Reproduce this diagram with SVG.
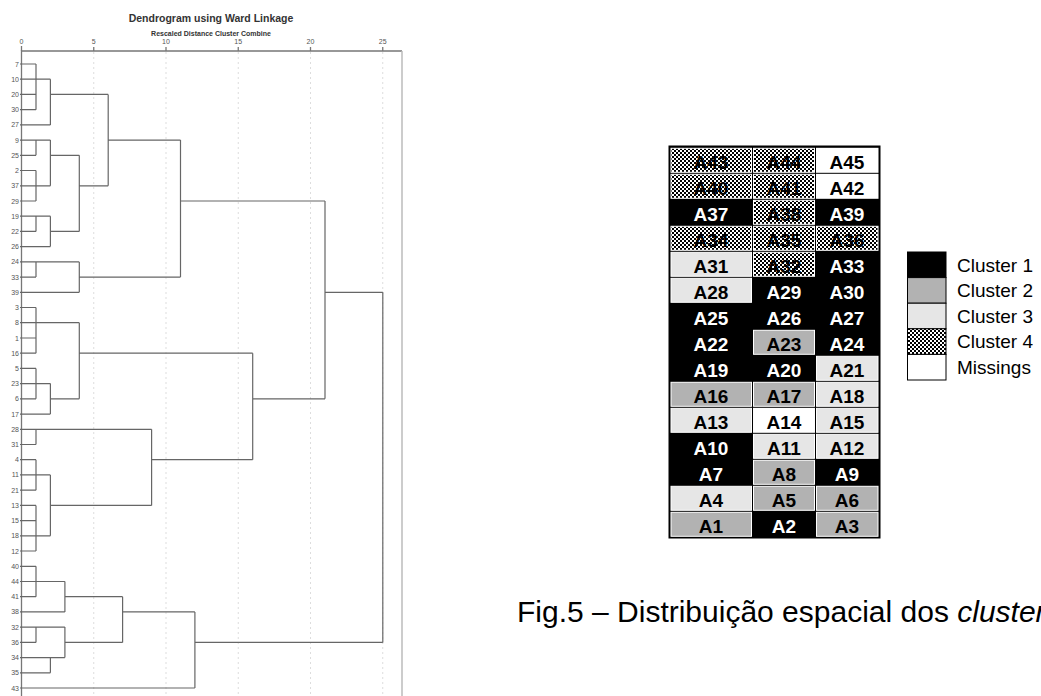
<svg xmlns="http://www.w3.org/2000/svg" width="1041" height="696" viewBox="0 0 1041 696">
<style>
.bg{fill:#fff}
.tt{font-family:"Liberation Sans",Arial,sans-serif;font-weight:bold;fill:#333;text-anchor:middle}
.ax{font-family:"Liberation Sans",Arial,sans-serif;font-size:7px;fill:#555;text-anchor:middle}
.lf{font-family:"Liberation Sans",Arial,sans-serif;font-size:7px;fill:#555;text-anchor:end}
.frame{stroke:#777;stroke-width:1.3;fill:none}
.frameR{stroke:#bbb;stroke-width:1.5;fill:none}
.grid{stroke:#ddd;stroke-width:1;stroke-dasharray:2 3;fill:none}
.den{stroke:#666;stroke-width:1.2;fill:none}
.cell{font-family:"Liberation Sans",Arial,sans-serif;font-weight:bold;font-size:19px;text-anchor:middle}
.w{fill:#fff}
.k{fill:#000}
.c1{fill:#000}
.c2{fill:#b2b2b2}
.c3{fill:#e6e6e6}
.c4{fill:url(#chk)}
.cm{fill:#fff}
.cg .c2,.cg .c3,.cg .c4{stroke:#fff;stroke-width:1}
.lg{font-family:"Liberation Sans",Arial,sans-serif;font-size:19px;fill:#000}
.cap{font-family:"Liberation Sans",Arial,sans-serif;font-size:30px;fill:#000}
</style>
<defs>
<pattern id="chk" width="4" height="4" patternUnits="userSpaceOnUse">
<rect width="4" height="4" fill="#fff"/>
<rect width="2" height="2" fill="#000"/>
<rect x="2" y="2" width="2" height="2" fill="#000"/>
</pattern>
</defs>
<rect class="bg" width="1041" height="696"/>

<g id="dendrogram-title">
<text class="tt" x="211" y="22" font-size="10.5">Dendrogram using Ward Linkage</text>
<text class="tt" x="211" y="35.5" font-size="7">Rescaled Distance Cluster Combine</text>
</g>

<g id="axis">
<text class="ax" x="21.5" y="44">0</text>
<text class="ax" x="93.75" y="44">5</text>
<text class="ax" x="166" y="44">10</text>
<text class="ax" x="238.25" y="44">15</text>
<text class="ax" x="310.5" y="44">20</text>
<text class="ax" x="382.75" y="44">25</text>
<path class="frame" d="M21.5 46V51M93.75 47V51M166 47V51M238.25 47V51M310.5 47V51M382.75 47V51"/>
<path class="grid" d="M93.75 52V696M166 52V696M238.25 52V696M310.5 52V696M382.75 52V696"/>
<path class="frame" d="M21.5 696V51H402"/>
<path class="frameR" d="M402 51V696"/>
</g>

<g id="leaf-labels">
<text class="lf" x="19" y="66.5">7</text>
<text class="lf" x="19" y="81.7">10</text>
<text class="lf" x="19" y="96.9">20</text>
<text class="lf" x="19" y="112.2">30</text>
<text class="lf" x="19" y="127.4">27</text>
<text class="lf" x="19" y="142.6">9</text>
<text class="lf" x="19" y="157.8">25</text>
<text class="lf" x="19" y="173">2</text>
<text class="lf" x="19" y="188.3">37</text>
<text class="lf" x="19" y="203.5">29</text>
<text class="lf" x="19" y="218.7">19</text>
<text class="lf" x="19" y="233.9">22</text>
<text class="lf" x="19" y="249.1">26</text>
<text class="lf" x="19" y="264.4">24</text>
<text class="lf" x="19" y="279.6">33</text>
<text class="lf" x="19" y="294.8">39</text>
<text class="lf" x="19" y="310">3</text>
<text class="lf" x="19" y="325.2">8</text>
<text class="lf" x="19" y="340.5">1</text>
<text class="lf" x="19" y="355.7">16</text>
<text class="lf" x="19" y="370.9">5</text>
<text class="lf" x="19" y="386.1">23</text>
<text class="lf" x="19" y="401.3">6</text>
<text class="lf" x="19" y="416.6">17</text>
<text class="lf" x="19" y="431.8">28</text>
<text class="lf" x="19" y="447">31</text>
<text class="lf" x="19" y="462.2">4</text>
<text class="lf" x="19" y="477.4">11</text>
<text class="lf" x="19" y="492.7">21</text>
<text class="lf" x="19" y="507.9">13</text>
<text class="lf" x="19" y="523.1">15</text>
<text class="lf" x="19" y="538.3">18</text>
<text class="lf" x="19" y="553.5">12</text>
<text class="lf" x="19" y="568.8">40</text>
<text class="lf" x="19" y="584">44</text>
<text class="lf" x="19" y="599.2">41</text>
<text class="lf" x="19" y="614.4">38</text>
<text class="lf" x="19" y="629.6">32</text>
<text class="lf" x="19" y="644.9">36</text>
<text class="lf" x="19" y="660.1">34</text>
<text class="lf" x="19" y="675.3">35</text>
<text class="lf" x="19" y="690.5">43</text>
</g>

<g id="connectors">
<path class="den" d="
M20 64H36M20 79.2H36M20 94.4H36M20 109.7H36M20 124.9H50.4
M20 140.1H36M20 155.3H36M20 170.5H36M20 185.8H36M20 201H36
M20 216.2H36M20 231.4H36M20 246.6H50.4
M20 261.9H36M20 277.1H36M20 292.3H79.3
M20 307.5H36M20 322.7H36M20 338H36M20 353.2H36
M20 368.4H36M20 383.6H36M20 398.8H36M20 414.1H50.4
M20 429.3H36M20 444.5H36
M20 459.7H36M20 474.9H36M20 490.2H36
M20 505.4H36M20 520.6H36M20 535.8H36M20 551H36
M20 566.3H36M20 581.5H36M20 596.7H36M20 611.9H64.9
M20 627.1H36M20 642.4H36M20 657.6H50.4M20 672.8H50.4M20 688H194.9
M36 64V109.7M36 79.2H50.4
M50.4 79.2V124.9M50.4 94.4H108.2
M36 140.1V155.3M36 140.1H50.4
M36 170.5V201M36 185.8H50.4
M50.4 140.1V185.8M50.4 155.3H79.3
M36 216.2V231.4M36 216.2H50.4
M50.4 216.2V246.6M50.4 231.4H79.3
M79.3 155.3V231.4M79.3 185.8H108.2
M108.2 94.4V185.8M108.2 140.1H180.5
M36 261.9V277.1M36 261.9H79.3
M79.3 261.9V292.3M79.3 277.1H180.5
M180.5 140.1V277.1M180.5 201H325
M36 307.5V353.2M36 322.7H79.3
M36 368.4V398.8M36 383.6H50.4
M50.4 383.6V414.1M50.4 398.8H79.3
M79.3 322.7V398.8M79.3 353.2H252.7
M36 429.3V444.5M36 429.3H151.6
M36 459.7V490.2M36 474.9H50.4
M36 505.4V551M36 535.8H50.4
M50.4 474.9V535.8M50.4 505.4H151.6
M151.6 429.3V505.4M151.6 459.7H252.7
M252.7 353.2V459.7M252.7 398.8H325
M325 201V398.8M325 292.3H382.8
M36 566.3V596.7M36 581.5H64.9
M64.9 581.5V611.9M64.9 596.7H122.6
M36 627.1V642.4M36 627.1H64.9
M50.4 657.6V672.8M50.4 657.6H64.9
M64.9 627.1V657.6M64.9 642.4H122.6
M122.6 596.7V642.4M122.6 611.9H194.9
M194.9 611.9V688M194.9 642.4H382.8
M382.8 292.3V642.4"/>
</g>

<g id="cluster-grid" class="cg">
<rect x="668.5" y="145.5" width="212" height="393" fill="#000"/>
<g id="row-43">
<rect class="c4" x="671" y="148.3" width="80.5" height="24"/><text class="cell k" x="711" y="168.5">A43</text>
<rect class="c4" x="753.5" y="148.3" width="61" height="24"/><text class="cell k" x="784" y="168.5">A44</text>
<rect class="cm" x="816" y="147.8" width="62.5" height="25"/><text class="cell k" x="847" y="168.5">A45</text>
</g>
<g id="row-40">
<rect class="c4" x="671" y="174.3" width="80.5" height="24"/><text class="cell k" x="711" y="194.5">A40</text>
<rect class="c4" x="753.5" y="174.3" width="61" height="24"/><text class="cell k" x="784" y="194.5">A41</text>
<rect class="cm" x="816" y="173.8" width="62.5" height="25"/><text class="cell k" x="847" y="194.5">A42</text>
</g>
<g id="row-37">
<text class="cell w" x="711" y="220.5">A37</text>
<rect class="c4" x="753.5" y="200.3" width="61" height="24"/><text class="cell k" x="784" y="220.5">A38</text>
<text class="cell w" x="847" y="220.5">A39</text>
</g>
<g id="row-34">
<rect class="c4" x="671" y="226.3" width="80.5" height="24"/><text class="cell k" x="711" y="246.5">A34</text>
<rect class="c4" x="753.5" y="226.3" width="61" height="24"/><text class="cell k" x="784" y="246.5">A35</text>
<rect class="c4" x="816.5" y="226.3" width="61.5" height="24"/><text class="cell k" x="847" y="246.5">A36</text>
</g>
<g id="row-31">
<rect class="c3" x="671" y="252.3" width="80.5" height="24"/><text class="cell k" x="711" y="272.5">A31</text>
<rect class="c4" x="753.5" y="252.3" width="61" height="24"/><text class="cell k" x="784" y="272.5">A32</text>
<text class="cell w" x="847" y="272.5">A33</text>
</g>
<g id="row-28">
<rect class="c3" x="671" y="278.3" width="80.5" height="24"/><text class="cell k" x="711" y="298.5">A28</text>
<text class="cell w" x="784" y="298.5">A29</text>
<text class="cell w" x="847" y="298.5">A30</text>
</g>
<g id="row-25">
<text class="cell w" x="711" y="324.5">A25</text>
<text class="cell w" x="784" y="324.5">A26</text>
<text class="cell w" x="847" y="324.5">A27</text>
</g>
<g id="row-22">
<text class="cell w" x="711" y="350.5">A22</text>
<rect class="c2" x="753.5" y="330.3" width="61" height="24"/><text class="cell k" x="784" y="350.5">A23</text>
<text class="cell w" x="847" y="350.5">A24</text>
</g>
<g id="row-19">
<text class="cell w" x="711" y="376.5">A19</text>
<text class="cell w" x="784" y="376.5">A20</text>
<rect class="c3" x="816.5" y="356.3" width="61.5" height="24"/><text class="cell k" x="847" y="376.5">A21</text>
</g>
<g id="row-16">
<rect class="c2" x="671" y="382.3" width="80.5" height="24"/><text class="cell k" x="711" y="402.5">A16</text>
<rect class="c2" x="753.5" y="382.3" width="61" height="24"/><text class="cell k" x="784" y="402.5">A17</text>
<rect class="c3" x="816.5" y="382.3" width="61.5" height="24"/><text class="cell k" x="847" y="402.5">A18</text>
</g>
<g id="row-13">
<rect class="c3" x="671" y="408.3" width="80.5" height="24"/><text class="cell k" x="711" y="428.5">A13</text>
<rect class="cm" x="753" y="407.8" width="62" height="25"/><text class="cell k" x="784" y="428.5">A14</text>
<rect class="c3" x="816.5" y="408.3" width="61.5" height="24"/><text class="cell k" x="847" y="428.5">A15</text>
</g>
<g id="row-10">
<text class="cell w" x="711" y="454.5">A10</text>
<rect class="c3" x="753.5" y="434.3" width="61" height="24"/><text class="cell k" x="784" y="454.5">A11</text>
<rect class="c3" x="816.5" y="434.3" width="61.5" height="24"/><text class="cell k" x="847" y="454.5">A12</text>
</g>
<g id="row-7">
<text class="cell w" x="711" y="480.5">A7</text>
<rect class="c2" x="753.5" y="460.3" width="61" height="24"/><text class="cell k" x="784" y="480.5">A8</text>
<text class="cell w" x="847" y="480.5">A9</text>
</g>
<g id="row-4">
<rect class="c3" x="671" y="486.3" width="80.5" height="24"/><text class="cell k" x="711" y="506.5">A4</text>
<rect class="c2" x="753.5" y="486.3" width="61" height="24"/><text class="cell k" x="784" y="506.5">A5</text>
<rect class="c2" x="816.5" y="486.3" width="61.5" height="24"/><text class="cell k" x="847" y="506.5">A6</text>
</g>
<g id="row-1">
<rect class="c2" x="671" y="512.3" width="80.5" height="24"/><text class="cell k" x="711" y="532.5">A1</text>
<text class="cell w" x="784" y="532.5">A2</text>
<rect class="c2" x="816.5" y="512.3" width="61.5" height="24"/><text class="cell k" x="847" y="532.5">A3</text>
</g>
</g>

<g id="legend">
<g id="legend-c1"><rect class="c1" x="907.5" y="252" width="38.5" height="25.6" stroke="#000"/><text class="lg" x="957" y="271.5">Cluster 1</text></g>
<g id="legend-c2"><rect class="c2" x="907.5" y="277.6" width="38.5" height="25.6" stroke="#000"/><text class="lg" x="957" y="297.1">Cluster 2</text></g>
<g id="legend-c3"><rect class="c3" x="907.5" y="303.2" width="38.5" height="25.6" stroke="#000"/><text class="lg" x="957" y="322.7">Cluster 3</text></g>
<g id="legend-c4"><rect class="c4" x="907.5" y="328.8" width="38.5" height="25.6" stroke="#000"/><text class="lg" x="957" y="348.3">Cluster 4</text></g>
<g id="legend-m"><rect class="cm" x="907.5" y="354.4" width="38.5" height="25.6" stroke="#000"/><text class="lg" x="957" y="373.9">Missings</text></g>
</g>

<g id="caption">
<text class="cap" x="517" y="622">Fig.5 – Distribuição espacial dos <tspan font-style="italic">cluster</tspan></text>
</g>
</svg>
